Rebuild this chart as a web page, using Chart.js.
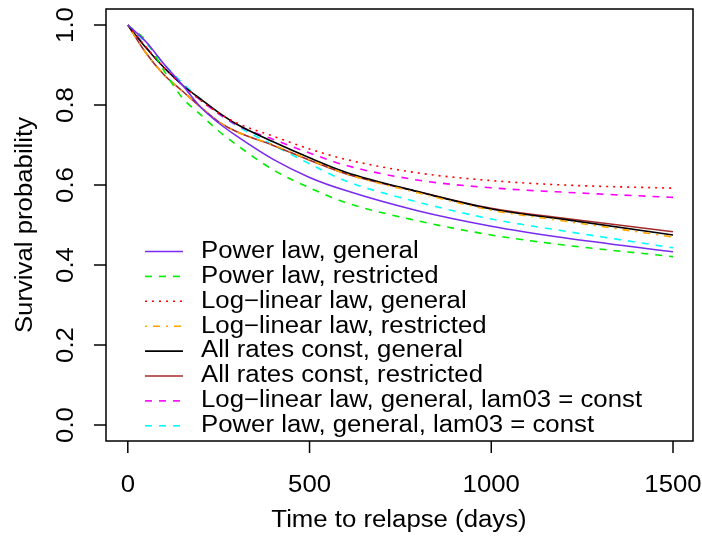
<!DOCTYPE html>
<html>
<head>
<meta charset="utf-8">
<script src="https://cdn.jsdelivr.net/npm/chart.js@4.4.1/dist/chart.umd.min.js"></script>
<style>
  body { margin: 0; background: #fff; }
  canvas { display: block; }
</style>
</head>
<body>
<canvas id="survChart" width="702" height="538"></canvas>
<script>
const days = [0, 50, 100, 150, 200, 250, 300, 400, 500, 600, 800, 1000, 1200, 1500];

const powerGeneral     = [1, 0.958, 0.902, 0.850, 0.795, 0.755, 0.722, 0.664, 0.619, 0.586, 0.535, 0.497, 0.468, 0.433];
const powerRestricted  = [1, 0.960, 0.885, 0.818, 0.776, 0.735, 0.700, 0.638, 0.593, 0.556, 0.510, 0.475, 0.450, 0.421];
const loglinGeneral    = [1, 0.945, 0.893, 0.850, 0.812, 0.780, 0.755, 0.722, 0.690, 0.664, 0.630, 0.611, 0.600, 0.592];
const loglinRestricted = [1, 0.930, 0.875, 0.835, 0.795, 0.758, 0.733, 0.700, 0.663, 0.628, 0.580, 0.537, 0.510, 0.470];
const constGeneral     = [1, 0.943, 0.893, 0.850, 0.815, 0.781, 0.752, 0.708, 0.668, 0.632, 0.583, 0.540, 0.514, 0.475];
const constRestricted  = [1, 0.930, 0.875, 0.835, 0.795, 0.758, 0.733, 0.699, 0.662, 0.628, 0.583, 0.542, 0.517, 0.483];
const loglinLam03      = [1, 0.945, 0.893, 0.850, 0.812, 0.778, 0.750, 0.714, 0.680, 0.649, 0.612, 0.593, 0.582, 0.569];
const powerLam03       = [1, 0.955, 0.902, 0.855, 0.815, 0.778, 0.748, 0.700, 0.653, 0.610, 0.557, 0.515, 0.485, 0.443];

const xTicks = [0, 500, 1000, 1500];
const yTicks = [0, 0.2, 0.4, 0.6, 0.8, 1.0];

const FONT = '23px "Liberation Sans", Arial, sans-serif';
const WIDEN = 1.12;   // the original font runs a bit wider than Liberation Sans

function pts(arr) {
  return days.map((d, i) => ({ x: d, y: arr[i] }));
}

function ds(label, arr, color, dash) {
  return {
    label: label,
    data: pts(arr),
    borderColor: color,
    borderWidth: 1.6,
    borderDash: dash,
    pointRadius: 0,
    fill: false,
    cubicInterpolationMode: 'monotone'
  };
}

const datasets = [
  ds('Power law, general', powerGeneral, '#7a2bf0', []),
  ds('Power law, restricted', powerRestricted, '#00ee00', [7, 7]),
  ds('Log\u2212linear law, general', loglinGeneral, '#ff0000', [2, 5]),
  ds('Log\u2212linear law, restricted', loglinRestricted, '#ffa500', [2, 6, 7, 6]),
  ds('All rates const, general', constGeneral, '#000000', []),
  ds('All rates const, restricted', constRestricted, '#a52a2a', []),
  ds('Log\u2212linear law, general, lam03 = const', loglinLam03, '#ff00ff', [7, 7]),
  ds('Power law, general, lam03 = const', powerLam03, '#00ffff', [7, 7])
];

function text(ctx, s, x, y, align, rot) {
  ctx.save();
  ctx.translate(x, y);
  if (rot) ctx.rotate(rot);
  ctx.scale(WIDEN, 1);
  ctx.textAlign = align;
  ctx.fillText(s, 0, 0);
  ctx.restore();
}

// R-style box, ticks, labels and legend
const rAxes = {
  id: 'rAxes',
  afterDraw(chart) {
    const ctx = chart.ctx;
    const a = chart.chartArea;
    const xs = chart.scales.x, ys = chart.scales.y;
    ctx.save();
    ctx.strokeStyle = '#000';
    ctx.lineWidth = 1.5;
    ctx.setLineDash([]);
    ctx.strokeRect(a.left, a.top, a.right - a.left, a.bottom - a.top);

    ctx.fillStyle = '#000';
    ctx.font = FONT;
    ctx.textBaseline = 'middle';

    xTicks.forEach(v => {
      const px = xs.getPixelForValue(v);
      ctx.beginPath();
      ctx.moveTo(px, a.bottom);
      ctx.lineTo(px, a.bottom + 12);
      ctx.stroke();
      text(ctx, String(v), px, 486, 'center');
    });

    yTicks.forEach(v => {
      const py = ys.getPixelForValue(v);
      ctx.beginPath();
      ctx.moveTo(a.left - 12, py);
      ctx.lineTo(a.left, py);
      ctx.stroke();
      text(ctx, v.toFixed(1), 67, py, 'center', -Math.PI / 2);
    });

    text(ctx, 'Time to relapse (days)', 399, 521, 'center');
    text(ctx, 'Survival probability', 26, (a.top + a.bottom) / 2, 'center', -Math.PI / 2);

    // legend
    chart.data.datasets.forEach((d, i) => {
      const y = 251.5 + i * 24.9;
      ctx.strokeStyle = d.borderColor;
      ctx.lineWidth = 1.6;
      ctx.setLineDash(d.borderDash);
      ctx.beginPath();
      ctx.moveTo(145, y);
      ctx.lineTo(183, y);
      ctx.stroke();
      text(ctx, d.label, 201, y, 'left');
    });
    ctx.restore();
  }
};

new Chart(document.getElementById('survChart'), {
  type: 'line',
  data: { datasets: datasets },
  options: {
    responsive: false,
    animation: false,
    layout: { padding: { left: 106, top: 9, right: 9, bottom: 97 } },
    plugins: { legend: { display: false }, tooltip: { enabled: false } },
    scales: {
      x: { type: 'linear', min: -60, max: 1555, display: false },
      y: { type: 'linear', min: -0.04, max: 1.04, display: false }
    }
  },
  plugins: [rAxes]
});
</script>
</body>
</html>
